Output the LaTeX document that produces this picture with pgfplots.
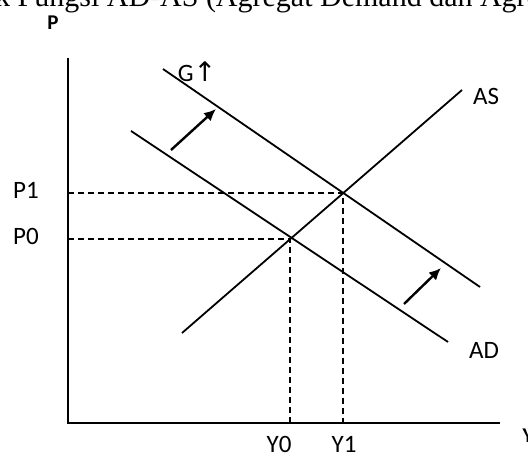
\documentclass[border=0pt]{standalone}
\usepackage{pgfplots}
\pgfplotsset{compat=1.18}
\usepackage{fontspec}
\setmainfont{Carlito}
\newfontfamily\timesfont{Liberation Serif}
\newfontfamily\symfont{DejaVu Sans}
\usetikzlibrary{arrows.meta}
\begin{document}
\begin{tikzpicture}
\begin{axis}[
  at={(0,0)}, anchor=south west,
  scale only axis, width=528bp, height=459bp,
  xmin=0, xmax=528, ymin=0, ymax=459,
  hide axis, clip=false,
]
% axes
\addplot[black, line width=1.8bp] coordinates {(68,401) (68,36) (500,36)};
% dashed guide lines
\addplot[black, line width=1.5bp, dash pattern=on 6bp off 4bp] coordinates {(68,266) (343,266) (343,36)};
\addplot[black, line width=1.5bp, dash pattern=on 6bp off 4bp] coordinates {(68,220) (290,220) (290,36)};
% AS
\addplot[black, line width=1.8bp] coordinates {(182,126) (462,369)};
% AD
\addplot[black, line width=1.8bp] coordinates {(131,328) (448,117)};
% AD shifted
\addplot[black, line width=1.8bp] coordinates {(163,390) (480,172)};
% shift arrows
\addplot[black, line width=2.4bp, -{Latex[length=12bp,width=11bp]}] coordinates {(171,309) (216,350)};
\addplot[black, line width=2.4bp, -{Latex[length=12bp,width=11bp]}] coordinates {(404,155) (441,191)};
% labels
\node[font=\bfseries\fontsize{21bp}{24bp}\selectfont] at (axis cs:53,436) {P};
\node[anchor=west, font=\bfseries\fontsize{21bp}{24bp}\selectfont] at (axis cs:519,23) {Y};
\node[font=\fontsize{25bp}{28bp}\selectfont] at (axis cs:26,269) {P1};
\node[font=\fontsize{25bp}{28bp}\selectfont] at (axis cs:26,223) {P0};
\node[font=\fontsize{25bp}{28bp}\selectfont] at (axis cs:279,15) {Y0};
\node[font=\fontsize{25bp}{28bp}\selectfont] at (axis cs:344,15) {Y1};
\node[font=\fontsize{25bp}{28bp}\selectfont] at (axis cs:484,109) {AD};
\node[font=\fontsize{25bp}{28bp}\selectfont] at (axis cs:486,363) {AS};
\node[font=\fontsize{25bp}{28bp}\selectfont] at (axis cs:197,387) {G{\symfont\fontsize{27bp}{28bp}\selectfont ↑}};
\node[anchor=base west, inner sep=0pt, font=\timesfont\fontsize{30bp}{34bp}\selectfont] at (axis cs:-5,452) {k Fungsi AD-AS (Agregat Demand dan Agregat Supply)};
\end{axis}
\pgfresetboundingbox
\path (0,0) rectangle (528bp,459bp);
\end{tikzpicture}
\end{document}
